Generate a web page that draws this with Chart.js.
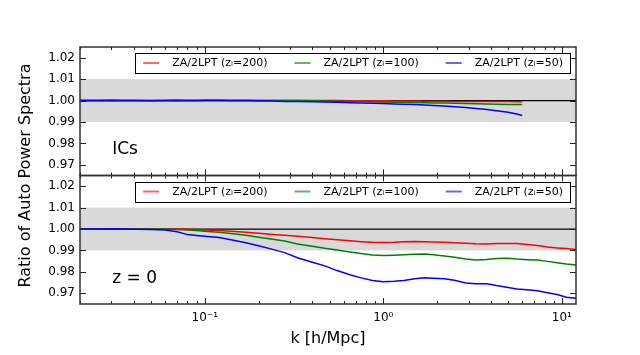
<!DOCTYPE html>
<html>
<head>
<meta charset="utf-8">
<script src="https://cdn.jsdelivr.net/npm/chart.js@4.4.1/dist/chart.umd.min.js"></script>
<style>
  body { margin: 0; background: #fff; }
  #wrap { width: 640px; height: 355px; }
</style>
</head>
<body>
<div id="wrap"><canvas id="ratioChart" width="640" height="355"></canvas></div>
<script>
// k values [h/Mpc]
const kIC = [0.02, 0.025, 0.03, 0.035, 0.04, 0.05, 0.06, 0.07, 0.08, 0.09, 0.1, 0.12, 0.14, 0.17, 0.2, 0.24, 0.28, 0.33, 0.4, 0.47,
  0.55, 0.65, 0.75, 0.87, 1.0, 1.15, 1.3, 1.5, 1.7, 1.9, 2.2, 2.5, 2.9, 3.3, 3.8, 4.3, 5.0, 5.6, 6.0];
const kZ0 = [0.02, 0.025, 0.03, 0.035, 0.04, 0.05, 0.06, 0.07, 0.08, 0.09, 0.1, 0.12, 0.14, 0.17, 0.2, 0.24, 0.28, 0.33, 0.4, 0.47,
  0.55, 0.65, 0.75, 0.87, 1.0, 1.15, 1.3, 1.5, 1.7, 1.9, 2.2, 2.5, 2.9, 3.3, 3.8, 4.3, 5.0, 5.6, 6.4, 7.3, 8.3, 9.4, 10.6, 12.0];

// ICs panel ratios
const icZi200 = [1.0000, 1.0000, 1.0000, 1.0000, 1.0000, 1.0000, 1.0000, 1.0000, 1.0000, 1.0000, 1.0000, 1.0000, 1.0000, 1.0000,
  1.0000, 1.0000, 1.0000, 1.0000, 1.0000, 1.0000, 1.0000, 0.9999, 0.9999, 0.9999, 0.9999, 0.9998, 0.9998, 0.9998, 0.9997, 0.9997,
  0.9997, 0.9996, 0.9996, 0.9996, 0.9995, 0.9995, 0.9995, 0.9994, 0.9994];
const icZi100 = [1.0000, 1.0000, 1.0000, 1.0000, 1.0000, 1.0000, 1.0000, 1.0000, 1.0000, 1.0000, 1.0000, 1.0000, 1.0000, 1.0000,
  1.0000, 1.0000, 1.0000, 1.0000, 0.9999, 0.9998, 0.9997, 0.9996, 0.9995, 0.9994, 0.9993, 0.9992, 0.9992, 0.9991, 0.9990, 0.9989,
  0.9988, 0.9987, 0.9986, 0.9985, 0.9984, 0.9983, 0.9982, 0.9981, 0.9981];
const icZi50 = [1.0000, 1.0000, 1.0001, 1.0000, 1.0000, 0.9999, 1.0000, 1.0001, 1.0000, 1.0000, 1.0001, 1.0001, 1.0000, 1.0000,
  0.9999, 0.9998, 0.9996, 0.9995, 0.9994, 0.9993, 0.9992, 0.9990, 0.9989, 0.9987, 0.9986, 0.9984, 0.9983, 0.9981, 0.9979, 0.9977,
  0.9974, 0.9971, 0.9967, 0.9963, 0.9958, 0.9952, 0.9945, 0.9937, 0.9930];

// z = 0 panel ratios
const z0Zi200 = [1.0000, 1.0000, 1.0000, 1.0000, 1.0000, 1.0000, 1.0000, 1.0000, 0.9999, 0.9998, 0.9996, 0.9993, 0.9990, 0.9985,
  0.9980, 0.9975, 0.9971, 0.9966, 0.9961, 0.9955, 0.9950, 0.9945, 0.9941, 0.9938, 0.9937, 0.9938, 0.9941, 0.9942, 0.9941, 0.9940,
  0.9938, 0.9936, 0.9934, 0.9931, 0.9930, 0.9932, 0.9933, 0.9932, 0.9928, 0.9923, 0.9916, 0.9912, 0.9909, 0.9904];
const z0Zi100 = [1.0000, 1.0000, 1.0000, 1.0000, 1.0000, 1.0000, 1.0000, 0.9998, 0.9996, 0.9993, 0.9990, 0.9985, 0.9979, 0.9971,
  0.9962, 0.9952, 0.9944, 0.9930, 0.9920, 0.9910, 0.9902, 0.9893, 0.9886, 0.9879, 0.9876, 0.9878, 0.9880, 0.9882, 0.9884, 0.9880,
  0.9874, 0.9868, 0.9860, 0.9856, 0.9858, 0.9862, 0.9864, 0.9860, 0.9857, 0.9855, 0.9849, 0.9843, 0.9837, 0.9832];
const z0Zi50 = [1.0000, 1.0000, 1.0001, 1.0000, 0.9999, 0.9998, 0.9995, 0.9987, 0.9974, 0.9970, 0.9966, 0.9960, 0.9950, 0.9936,
  0.9922, 0.9905, 0.9890, 0.9866, 0.9845, 0.9828, 0.9806, 0.9787, 0.9772, 0.9760, 0.9754, 0.9756, 0.9760, 0.9768, 0.9772, 0.9770,
  0.9768, 0.9761, 0.9748, 0.9744, 0.9745, 0.9736, 0.9727, 0.9720, 0.9716, 0.9712, 0.9703, 0.9694, 0.9682, 0.9677];

const seriesLabels = ['ZA/2LPT (zᵢ=200)', 'ZA/2LPT (zᵢ=100)', 'ZA/2LPT (zᵢ=50)'];
const panelLabels = ['ICs', 'z = 0'];
const xMajor = [0.1, 1, 10];
const xTickLabels = ['10⁻¹', '10⁰', '10¹'];
const yTicks = [0.97, 0.98, 0.99, 1.00, 1.01, 1.02];
const band = [0.99, 1.01];

const colors = ['rgb(255,0,0)', 'rgb(0,128,0)', 'rgb(0,0,255)'];
const legendColors = ['rgba(255,0,0,0.6)', 'rgba(0,128,0,0.6)', 'rgba(0,0,255,0.6)'];
const FONT = 'DejaVu Sans';

// minor + major tick values on the log axis
const xTickValues = [];
[0.01, 0.1, 1, 10].forEach(d => {
  for (let m = 1; m <= 9; m++) {
    const v = parseFloat((m * d).toPrecision(3));
    if (v >= 0.02 && v <= 12) xTickValues.push(v);
  }
});

function pts(ks, vals) {
  return ks.map((k, i) => ({ x: k, y: vals[i] }));
}

const panelAxes = ['yTop', 'yBot'];
const datasets = [];
[[kIC, [icZi200, icZi100, icZi50]], [kZ0, [z0Zi200, z0Zi100, z0Zi50]]].forEach(([ks, sets], p) => {
  sets.forEach((vals, i) => {
    datasets.push({
      label: seriesLabels[i],
      data: pts(ks, vals),
      yAxisID: panelAxes[p],
      borderColor: colors[i],
      borderWidth: 1.5,
      pointRadius: 0,
      tension: 0,
      order: 3 - i
    });
  });
});

// band, reference line, frames, inward ticks, legends, panel text
const panelDecor = {
  id: 'panelDecor',
  beforeDatasetsDraw(chart) {
    const { ctx, chartArea: a, scales } = chart;
    ctx.save();
    panelAxes.forEach(id => {
      const y = scales[id];
      const t = y.getPixelForValue(band[1]), b = y.getPixelForValue(band[0]);
      ctx.fillStyle = '#d9d9d9';
      ctx.fillRect(a.left, t, a.right - a.left, b - t);
      const one = y.getPixelForValue(1);
      ctx.strokeStyle = '#000';
      ctx.lineWidth = 1.2;
      ctx.beginPath();
      ctx.moveTo(a.left, one);
      ctx.lineTo(a.right, one);
      ctx.stroke();
    });
    ctx.restore();
  },
  afterDatasetsDraw(chart) {
    const { ctx, chartArea: a, scales } = chart;
    const x = scales.x;
    ctx.save();
    panelAxes.forEach((id, p) => {
      const y = scales[id];
      const top = y.top, bot = y.bottom;
      // ticks
      ctx.strokeStyle = '#222';
      ctx.lineWidth = 1;
      ctx.beginPath();
      x.ticks.forEach(t => {
        const px = Math.round(x.getPixelForValue(t.value)) + 0.5;
        const len = xMajor.includes(t.value) ? 6 : 3;
        ctx.moveTo(px, top); ctx.lineTo(px, top + len);
        ctx.moveTo(px, bot); ctx.lineTo(px, bot - len);
      });
      y.ticks.forEach(t => {
        const py = Math.round(y.getPixelForValue(t.value)) + 0.5;
        ctx.moveTo(a.left, py); ctx.lineTo(a.left + 6, py);
        ctx.moveTo(a.right, py); ctx.lineTo(a.right - 6, py);
      });
      ctx.stroke();
      // frame
      ctx.strokeStyle = '#333';
      ctx.lineWidth = 1.5;
      ctx.strokeRect(a.left, top, a.right - a.left, bot - top);

      // panel label
      ctx.fillStyle = '#000';
      ctx.font = '17px "' + FONT + '"';
      ctx.textAlign = 'left';
      ctx.textBaseline = 'alphabetic';
      ctx.fillText(panelLabels[p], a.left + 0.065 * (a.right - a.left), bot - 0.165 * (bot - top));

      // legend
      const items = chart.data.datasets.map((d, i) => ({ d, i })).filter(o => o.d.yAxisID === id);
      ctx.font = '11px "' + FONT + '"';
      const padL = 8, padR = 7, handle = 16, hGap = 13, colGap = 27, h = 20;
      const widths = items.map(o => ctx.measureText(o.d.label).width);
      const total = padL + padR + widths.reduce((s, w) => s + w + handle + hGap, 0) + colGap * (items.length - 1);
      const bx = a.right - 6 - total, by = top + 6;
      ctx.fillStyle = '#fff';
      ctx.fillRect(bx, by, total, h);
      ctx.strokeStyle = '#000';
      ctx.lineWidth = 1;
      ctx.strokeRect(Math.round(bx) + 0.5, Math.round(by) + 0.5, Math.round(total), h);
      let cx = bx + padL;
      const cy = by + h / 2;
      items.forEach((o, k) => {
        ctx.strokeStyle = legendColors[k];
        ctx.lineWidth = 2;
        ctx.beginPath();
        ctx.moveTo(cx, cy); ctx.lineTo(cx + handle, cy);
        ctx.stroke();
        cx += handle + hGap;
        ctx.fillStyle = '#000';
        ctx.textBaseline = 'middle';
        ctx.fillText(o.d.label, cx, cy + 0.5);
        cx += widths[k] + colGap;
      });
    });

    // shared y title
    ctx.fillStyle = '#000';
    ctx.font = '16px "' + FONT + '"';
    ctx.textAlign = 'center';
    ctx.textBaseline = 'middle';
    ctx.translate(26, (a.top + a.bottom) / 2);
    ctx.rotate(-Math.PI / 2);
    ctx.fillText('Ratio of Auto Power Spectra', 0, 0);
    ctx.restore();
  }
};

function yAxis(weight) {
  return {
    type: 'linear',
    position: 'left',
    stack: 'panels',
    stackWeight: 1,
    weight: weight,
    min: 0.965,
    max: 1.025,
    grid: { display: false, drawTicks: false },
    border: { display: false },
    afterBuildTicks: s => { s.ticks = yTicks.map(v => ({ value: v })); },
    afterFit: s => { s.width = 80; },
    ticks: {
      autoSkip: false,
      padding: 5,
      color: '#000',
      font: { family: FONT, size: 12 },
      callback: v => v.toFixed(2)
    }
  };
}

new Chart(document.getElementById('ratioChart'), {
  type: 'line',
  data: { datasets: datasets },
  options: {
    responsive: false,
    animation: false,
    devicePixelRatio: 1,
    layout: { padding: { top: 47, right: 64, left: 0, bottom: 0 } },
    plugins: { legend: { display: false }, tooltip: { enabled: false } },
    events: [],
    scales: {
      x: {
        type: 'logarithmic',
        position: 'bottom',
        min: 0.02,
        max: 12,
        grid: { display: false, drawTicks: false },
        border: { display: false },
        afterBuildTicks: s => {
          s.ticks = xTickValues.map(v => ({ value: v, major: xMajor.includes(v) }));
        },
        afterFit: s => { s.height = 51; },
        ticks: {
          autoSkip: false,
          maxRotation: 0,
          padding: 7,
          color: '#000',
          font: { family: FONT, size: 12 },
          callback: v => {
            const i = xMajor.indexOf(v);
            return i >= 0 ? xTickLabels[i] : '';
          }
        },
        title: {
          display: true,
          text: 'k [h/Mpc]',
          color: '#000',
          font: { family: FONT, size: 16 },
          padding: { top: 0, bottom: 7 }
        }
      },
      yBot: yAxis(0),
      yTop: yAxis(1)
    }
  },
  plugins: [panelDecor]
});
</script>
</body>
</html>
